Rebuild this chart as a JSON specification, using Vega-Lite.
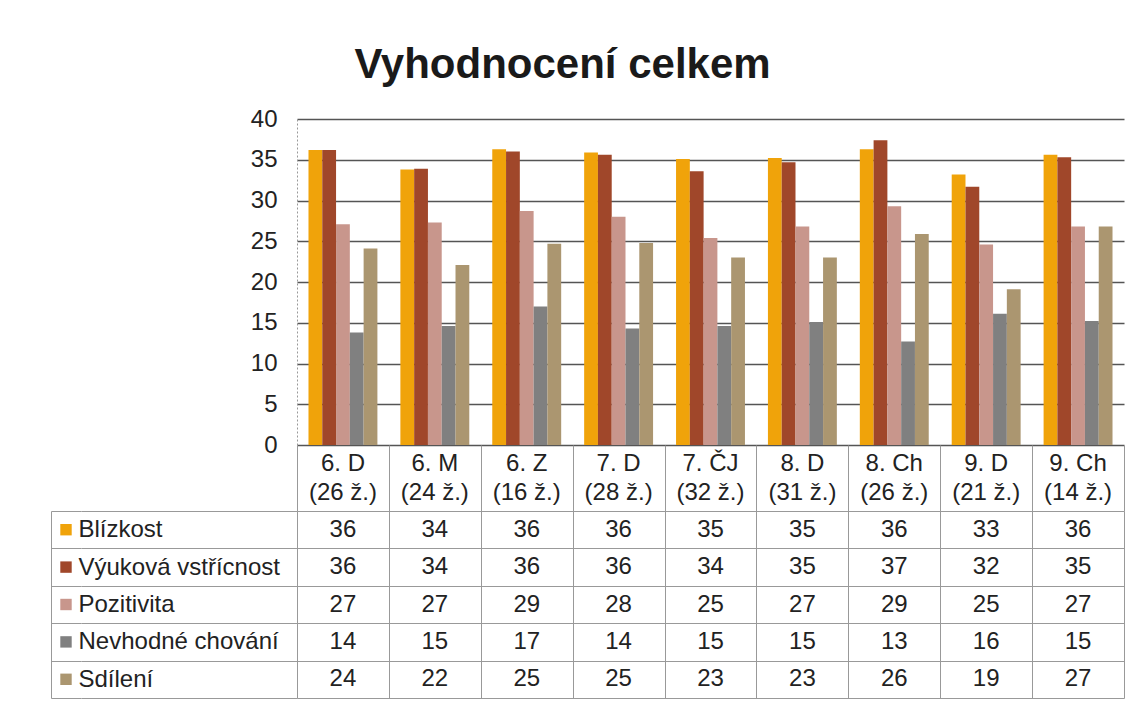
{
  "$schema": "https://vega.github.io/schema/vega-lite/v6.json",
  "padding": {"left": 51, "top": 44, "right": 10, "bottom": 2},
  "title": {"text": "Vyhodnocení celkem", "fontSize": 42, "font": "Liberation Sans", "fontWeight": "bold", "color": "#1a1a1a", "offset": 20, "anchor": "middle", "dx": -25},
  "config": {
    "view": {"stroke": null},
    "font": "Liberation Sans",
    "axis": {"labelFont": "Liberation Sans", "labelColor": "#222"},
    "text": {"font": "Liberation Sans", "color": "#222"}
  },
  "data": {"values": [
    {"trida": "6. D\n(26 ž.)", "ukazatel": "Blízkost", "hodnota": 36.2},
    {"trida": "6. D\n(26 ž.)", "ukazatel": "Výuková vstřícnost", "hodnota": 36.2},
    {"trida": "6. D\n(26 ž.)", "ukazatel": "Pozitivita", "hodnota": 27.1},
    {"trida": "6. D\n(26 ž.)", "ukazatel": "Nevhodné chování", "hodnota": 13.8},
    {"trida": "6. D\n(26 ž.)", "ukazatel": "Sdílení", "hodnota": 24.1},
    {"trida": "6. M\n(24 ž.)", "ukazatel": "Blízkost", "hodnota": 33.8},
    {"trida": "6. M\n(24 ž.)", "ukazatel": "Výuková vstřícnost", "hodnota": 33.9},
    {"trida": "6. M\n(24 ž.)", "ukazatel": "Pozitivita", "hodnota": 27.3},
    {"trida": "6. M\n(24 ž.)", "ukazatel": "Nevhodné chování", "hodnota": 14.6},
    {"trida": "6. M\n(24 ž.)", "ukazatel": "Sdílení", "hodnota": 22.1},
    {"trida": "6. Z\n(16 ž.)", "ukazatel": "Blízkost", "hodnota": 36.3},
    {"trida": "6. Z\n(16 ž.)", "ukazatel": "Výuková vstřícnost", "hodnota": 36.0},
    {"trida": "6. Z\n(16 ž.)", "ukazatel": "Pozitivita", "hodnota": 28.7},
    {"trida": "6. Z\n(16 ž.)", "ukazatel": "Nevhodné chování", "hodnota": 17.0},
    {"trida": "6. Z\n(16 ž.)", "ukazatel": "Sdílení", "hodnota": 24.7},
    {"trida": "7. D\n(28 ž.)", "ukazatel": "Blízkost", "hodnota": 35.9},
    {"trida": "7. D\n(28 ž.)", "ukazatel": "Výuková vstřícnost", "hodnota": 35.6},
    {"trida": "7. D\n(28 ž.)", "ukazatel": "Pozitivita", "hodnota": 28.0},
    {"trida": "7. D\n(28 ž.)", "ukazatel": "Nevhodné chování", "hodnota": 14.3},
    {"trida": "7. D\n(28 ž.)", "ukazatel": "Sdílení", "hodnota": 24.8},
    {"trida": "7. ČJ\n(32 ž.)", "ukazatel": "Blízkost", "hodnota": 35.1},
    {"trida": "7. ČJ\n(32 ž.)", "ukazatel": "Výuková vstřícnost", "hodnota": 33.6},
    {"trida": "7. ČJ\n(32 ž.)", "ukazatel": "Pozitivita", "hodnota": 25.4},
    {"trida": "7. ČJ\n(32 ž.)", "ukazatel": "Nevhodné chování", "hodnota": 14.6},
    {"trida": "7. ČJ\n(32 ž.)", "ukazatel": "Sdílení", "hodnota": 23.0},
    {"trida": "8. D\n(31 ž.)", "ukazatel": "Blízkost", "hodnota": 35.2},
    {"trida": "8. D\n(31 ž.)", "ukazatel": "Výuková vstřícnost", "hodnota": 34.7},
    {"trida": "8. D\n(31 ž.)", "ukazatel": "Pozitivita", "hodnota": 26.8},
    {"trida": "8. D\n(31 ž.)", "ukazatel": "Nevhodné chování", "hodnota": 15.1},
    {"trida": "8. D\n(31 ž.)", "ukazatel": "Sdílení", "hodnota": 23.0},
    {"trida": "8. Ch\n(26 ž.)", "ukazatel": "Blízkost", "hodnota": 36.3},
    {"trida": "8. Ch\n(26 ž.)", "ukazatel": "Výuková vstřícnost", "hodnota": 37.4},
    {"trida": "8. Ch\n(26 ž.)", "ukazatel": "Pozitivita", "hodnota": 29.3},
    {"trida": "8. Ch\n(26 ž.)", "ukazatel": "Nevhodné chování", "hodnota": 12.7},
    {"trida": "8. Ch\n(26 ž.)", "ukazatel": "Sdílení", "hodnota": 25.9},
    {"trida": "9. D\n(21 ž.)", "ukazatel": "Blízkost", "hodnota": 33.2},
    {"trida": "9. D\n(21 ž.)", "ukazatel": "Výuková vstřícnost", "hodnota": 31.7},
    {"trida": "9. D\n(21 ž.)", "ukazatel": "Pozitivita", "hodnota": 24.6},
    {"trida": "9. D\n(21 ž.)", "ukazatel": "Nevhodné chování", "hodnota": 16.1},
    {"trida": "9. D\n(21 ž.)", "ukazatel": "Sdílení", "hodnota": 19.1},
    {"trida": "9. Ch\n(14 ž.)", "ukazatel": "Blízkost", "hodnota": 35.6},
    {"trida": "9. Ch\n(14 ž.)", "ukazatel": "Výuková vstřícnost", "hodnota": 35.3},
    {"trida": "9. Ch\n(14 ž.)", "ukazatel": "Pozitivita", "hodnota": 26.8},
    {"trida": "9. Ch\n(14 ž.)", "ukazatel": "Nevhodné chování", "hodnota": 15.2},
    {"trida": "9. Ch\n(14 ž.)", "ukazatel": "Sdílení", "hodnota": 26.8}
  ]},
  "columns": 2,
  "spacing": 0,
  "bounds": "flush",
  "align": "each",
  "concat": [
    {
      "width": 246, "height": 326,
      "data": {"values": []},
      "mark": "point"
    },
    {
      "width": 827, "height": 326,
      "mark": {"type": "bar"},
      "encoding": {
        "x": {"field": "trida", "type": "nominal", "sort": ["6. D\n(26 ž.)", "6. M\n(24 ž.)", "6. Z\n(16 ž.)", "7. D\n(28 ž.)", "7. ČJ\n(32 ž.)", "8. D\n(31 ž.)", "8. Ch\n(26 ž.)", "9. D\n(21 ž.)", "9. Ch\n(14 ž.)"],
              "scale": {"paddingInner": 0.25, "paddingOuter": 0.125},
              "axis": {"title": null, "labels": false, "ticks": false, "domain": false, "grid": false}},
        "xOffset": {"field": "ukazatel", "type": "nominal", "sort": ["Blízkost", "Výuková vstřícnost", "Pozitivita", "Nevhodné chování", "Sdílení"],
                    "scale": {"paddingInner": 0, "paddingOuter": 0}},
        "y": {"field": "hodnota", "type": "quantitative", "scale": {"domain": [0, 40], "nice": false},
              "axis": {"title": null, "values": [0, 5, 10, 15, 20, 25, 30, 35, 40], "ticks": false, "labelPadding": 20, "labelFontSize": 24,
                       "grid": true, "gridColor": "#555", "gridWidth": 1.4, "domain": true, "domainColor": "#999", "domainDash": [2, 2]}},
        "color": {"field": "ukazatel", "type": "nominal", "legend": null,
                  "scale": {"domain": ["Blízkost", "Výuková vstřícnost", "Pozitivita", "Nevhodné chování", "Sdílení"],
                            "range": ["#F0A30A", "#A0472A", "#C8968C", "#808080", "#AB9670"]}}
      }
    },
    {
      "width": 246, "height": 66,
      "data": {"values": []},
      "mark": "point"
    },
    {
      "width": 827, "height": 66,
      "transform": [{"aggregate": [{"op": "count", "as": "n"}], "groupby": ["trida"]}],
      "mark": {"type": "text", "lineBreak": "\n", "fontSize": 24, "lineHeight": 29, "baseline": "middle", "dy": -14},
      "encoding": {
        "x": {"field": "trida", "type": "nominal", "sort": ["6. D\n(26 ž.)", "6. M\n(24 ž.)", "6. Z\n(16 ž.)", "7. D\n(28 ž.)", "7. ČJ\n(32 ž.)", "8. D\n(31 ž.)", "8. Ch\n(26 ž.)", "9. D\n(21 ž.)", "9. Ch\n(14 ž.)"],
              "scale": {"type": "band", "paddingInner": 0, "paddingOuter": 0},
              "axis": {"title": null, "labels": false, "ticks": false, "domain": false, "grid": true, "gridColor": "#999", "tickBand": "extent"}},
        "text": {"field": "trida", "type": "nominal"}
      }
    },
    {
      "hconcat": [
        {
          "width": 30, "height": 187,
          "transform": [{"aggregate": [{"op": "count", "as": "n"}], "groupby": ["ukazatel"]}],
          "mark": {"type": "square", "size": 130, "opacity": 1},
          "encoding": {
            "y": {"field": "ukazatel", "type": "nominal", "sort": ["Blízkost", "Výuková vstřícnost", "Pozitivita", "Nevhodné chování", "Sdílení"],
                  "scale": {"type": "band", "paddingInner": 0, "paddingOuter": 0},
                  "axis": {"title": null, "labels": false, "ticks": false, "domain": true, "domainColor": "#999", "grid": true, "gridColor": "#999", "tickBand": "extent"}},
            "color": {"field": "ukazatel", "type": "nominal", "legend": null,
                      "scale": {"domain": ["Blízkost", "Výuková vstřícnost", "Pozitivita", "Nevhodné chování", "Sdílení"],
                                "range": ["#F0A30A", "#A0472A", "#C8968C", "#808080", "#AB9670"]}}
          }
        },
        {
          "width": 216, "height": 187,
          "transform": [{"aggregate": [{"op": "count", "as": "n"}], "groupby": ["ukazatel"]}],
          "mark": {"type": "rect", "fillOpacity": 0},
          "encoding": {
            "y": {"field": "ukazatel", "type": "nominal", "sort": ["Blízkost", "Výuková vstřícnost", "Pozitivita", "Nevhodné chování", "Sdílení"],
                  "scale": {"type": "band", "paddingInner": 0, "paddingOuter": 0},
                  "axis": {"title": null, "labels": true, "labelAlign": "left", "labelPadding": 3, "labelFontSize": 24, "labelLimit": 0,
                           "ticks": false, "domain": false, "grid": true, "gridColor": "#999", "tickBand": "extent"}}
          }
        }
      ],
      "spacing": 0,
      "bounds": "flush"
    },
    {
      "width": 827, "height": 187,
      "mark": {"type": "text", "fontSize": 24},
      "encoding": {
        "x": {"field": "trida", "type": "nominal", "sort": ["6. D\n(26 ž.)", "6. M\n(24 ž.)", "6. Z\n(16 ž.)", "7. D\n(28 ž.)", "7. ČJ\n(32 ž.)", "8. D\n(31 ž.)", "8. Ch\n(26 ž.)", "9. D\n(21 ž.)", "9. Ch\n(14 ž.)"],
              "scale": {"type": "band", "paddingInner": 0, "paddingOuter": 0},
              "axis": {"title": null, "labels": false, "ticks": false, "domain": false, "grid": true, "gridColor": "#999", "tickBand": "extent"}},
        "y": {"field": "ukazatel", "type": "nominal", "sort": ["Blízkost", "Výuková vstřícnost", "Pozitivita", "Nevhodné chování", "Sdílení"],
              "scale": {"type": "band", "paddingInner": 0, "paddingOuter": 0},
              "axis": {"title": null, "labels": false, "ticks": false, "domain": false, "grid": true, "gridColor": "#999", "tickBand": "extent"}},
        "text": {"field": "hodnota", "type": "quantitative", "format": ".0f"}
      }
    }
  ]
}
